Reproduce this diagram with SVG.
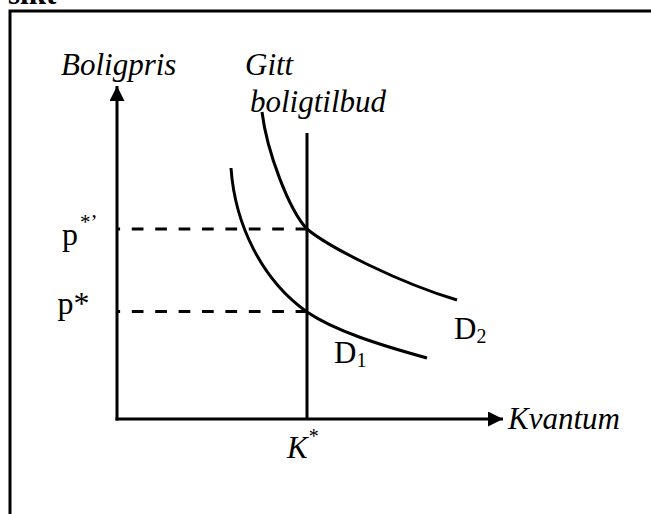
<svg xmlns="http://www.w3.org/2000/svg" width="651" height="514" viewBox="0 0 651 514">
  <defs>
    <style>
      .ln { fill: none; stroke: #000; stroke-width: 3; }
      .dash { fill: none; stroke: #000; stroke-width: 3; stroke-dasharray: 11.7 11.7; stroke-dashoffset: 9.6; }
      .t { font-family: "Liberation Serif", "Times New Roman", serif; font-size: 31px; fill: #000; }
      .it { font-style: italic; }
      .sm { font-size: 20px; }
    </style>
    <marker id="arrow" markerUnits="userSpaceOnUse" markerWidth="16" markerHeight="16" refX="15" refY="7.5" orient="auto">
      <path d="M0,0 L15,7.5 L0,15 Z" fill="#000"/>
    </marker>
  </defs>
  <rect width="651" height="514" fill="#fff"/>

  <g id="frame">
    <text class="t" x="8" y="4" style="font-weight:bold">sikt</text>
    <path class="ln" d="M10,514 V11 H651"/>
  </g>

  <g id="connectors">
    <line id="y-axis" class="ln" x1="117" y1="420.5" x2="117" y2="86" marker-end="url(#arrow)"/>
    <line id="x-axis" class="ln" x1="115.5" y1="419" x2="503" y2="419" marker-end="url(#arrow)"/>
    <line id="supply" class="ln" x1="307" y1="133" x2="307" y2="419"/>
    <line id="dash-p2" class="dash" x1="118" y1="229" x2="307" y2="229"/>
    <line id="dash-p1" class="dash" x1="118" y1="311.5" x2="307" y2="311.5"/>
    <path id="curve-d2" class="ln" d="M262,112 C267,152 289,210 307,229 C330,248 400,283 457,300"/>
    <path id="curve-d1" class="ln" d="M231,168 C235,225 262,280 307,312 C335,331 380,345 427,358"/>
  </g>

  <g id="label-boligpris"><text class="t it" x="61" y="75">Boligpris</text></g>
  <g id="label-gitt">
    <text class="t it" x="245" y="75">Gitt</text>
    <text class="t it" x="250" y="112">boligtilbud</text>
  </g>
  <g id="label-p2"><text class="t" x="62" y="245" style="font-size:32px">p<tspan class="sm" style="font-size:21px" dx="2" dy="-16">*’</tspan></text></g>
  <g id="label-p1"><text class="t" x="57.5" y="313.5" style="font-size:32px">p*</text></g>
  <g id="label-k"><text class="t it" x="287" y="458">K<tspan class="sm" style="font-style:normal" dx="1" dy="-15">*</tspan></text></g>
  <g id="label-kvantum"><text class="t it" x="508" y="429">Kvantum</text></g>
  <g id="label-d2"><text class="t" x="454" y="339">D<tspan class="sm" dy="4">2</tspan></text></g>
  <g id="label-d1"><text class="t" x="334" y="363">D<tspan class="sm" dy="4">1</tspan></text></g>
</svg>
